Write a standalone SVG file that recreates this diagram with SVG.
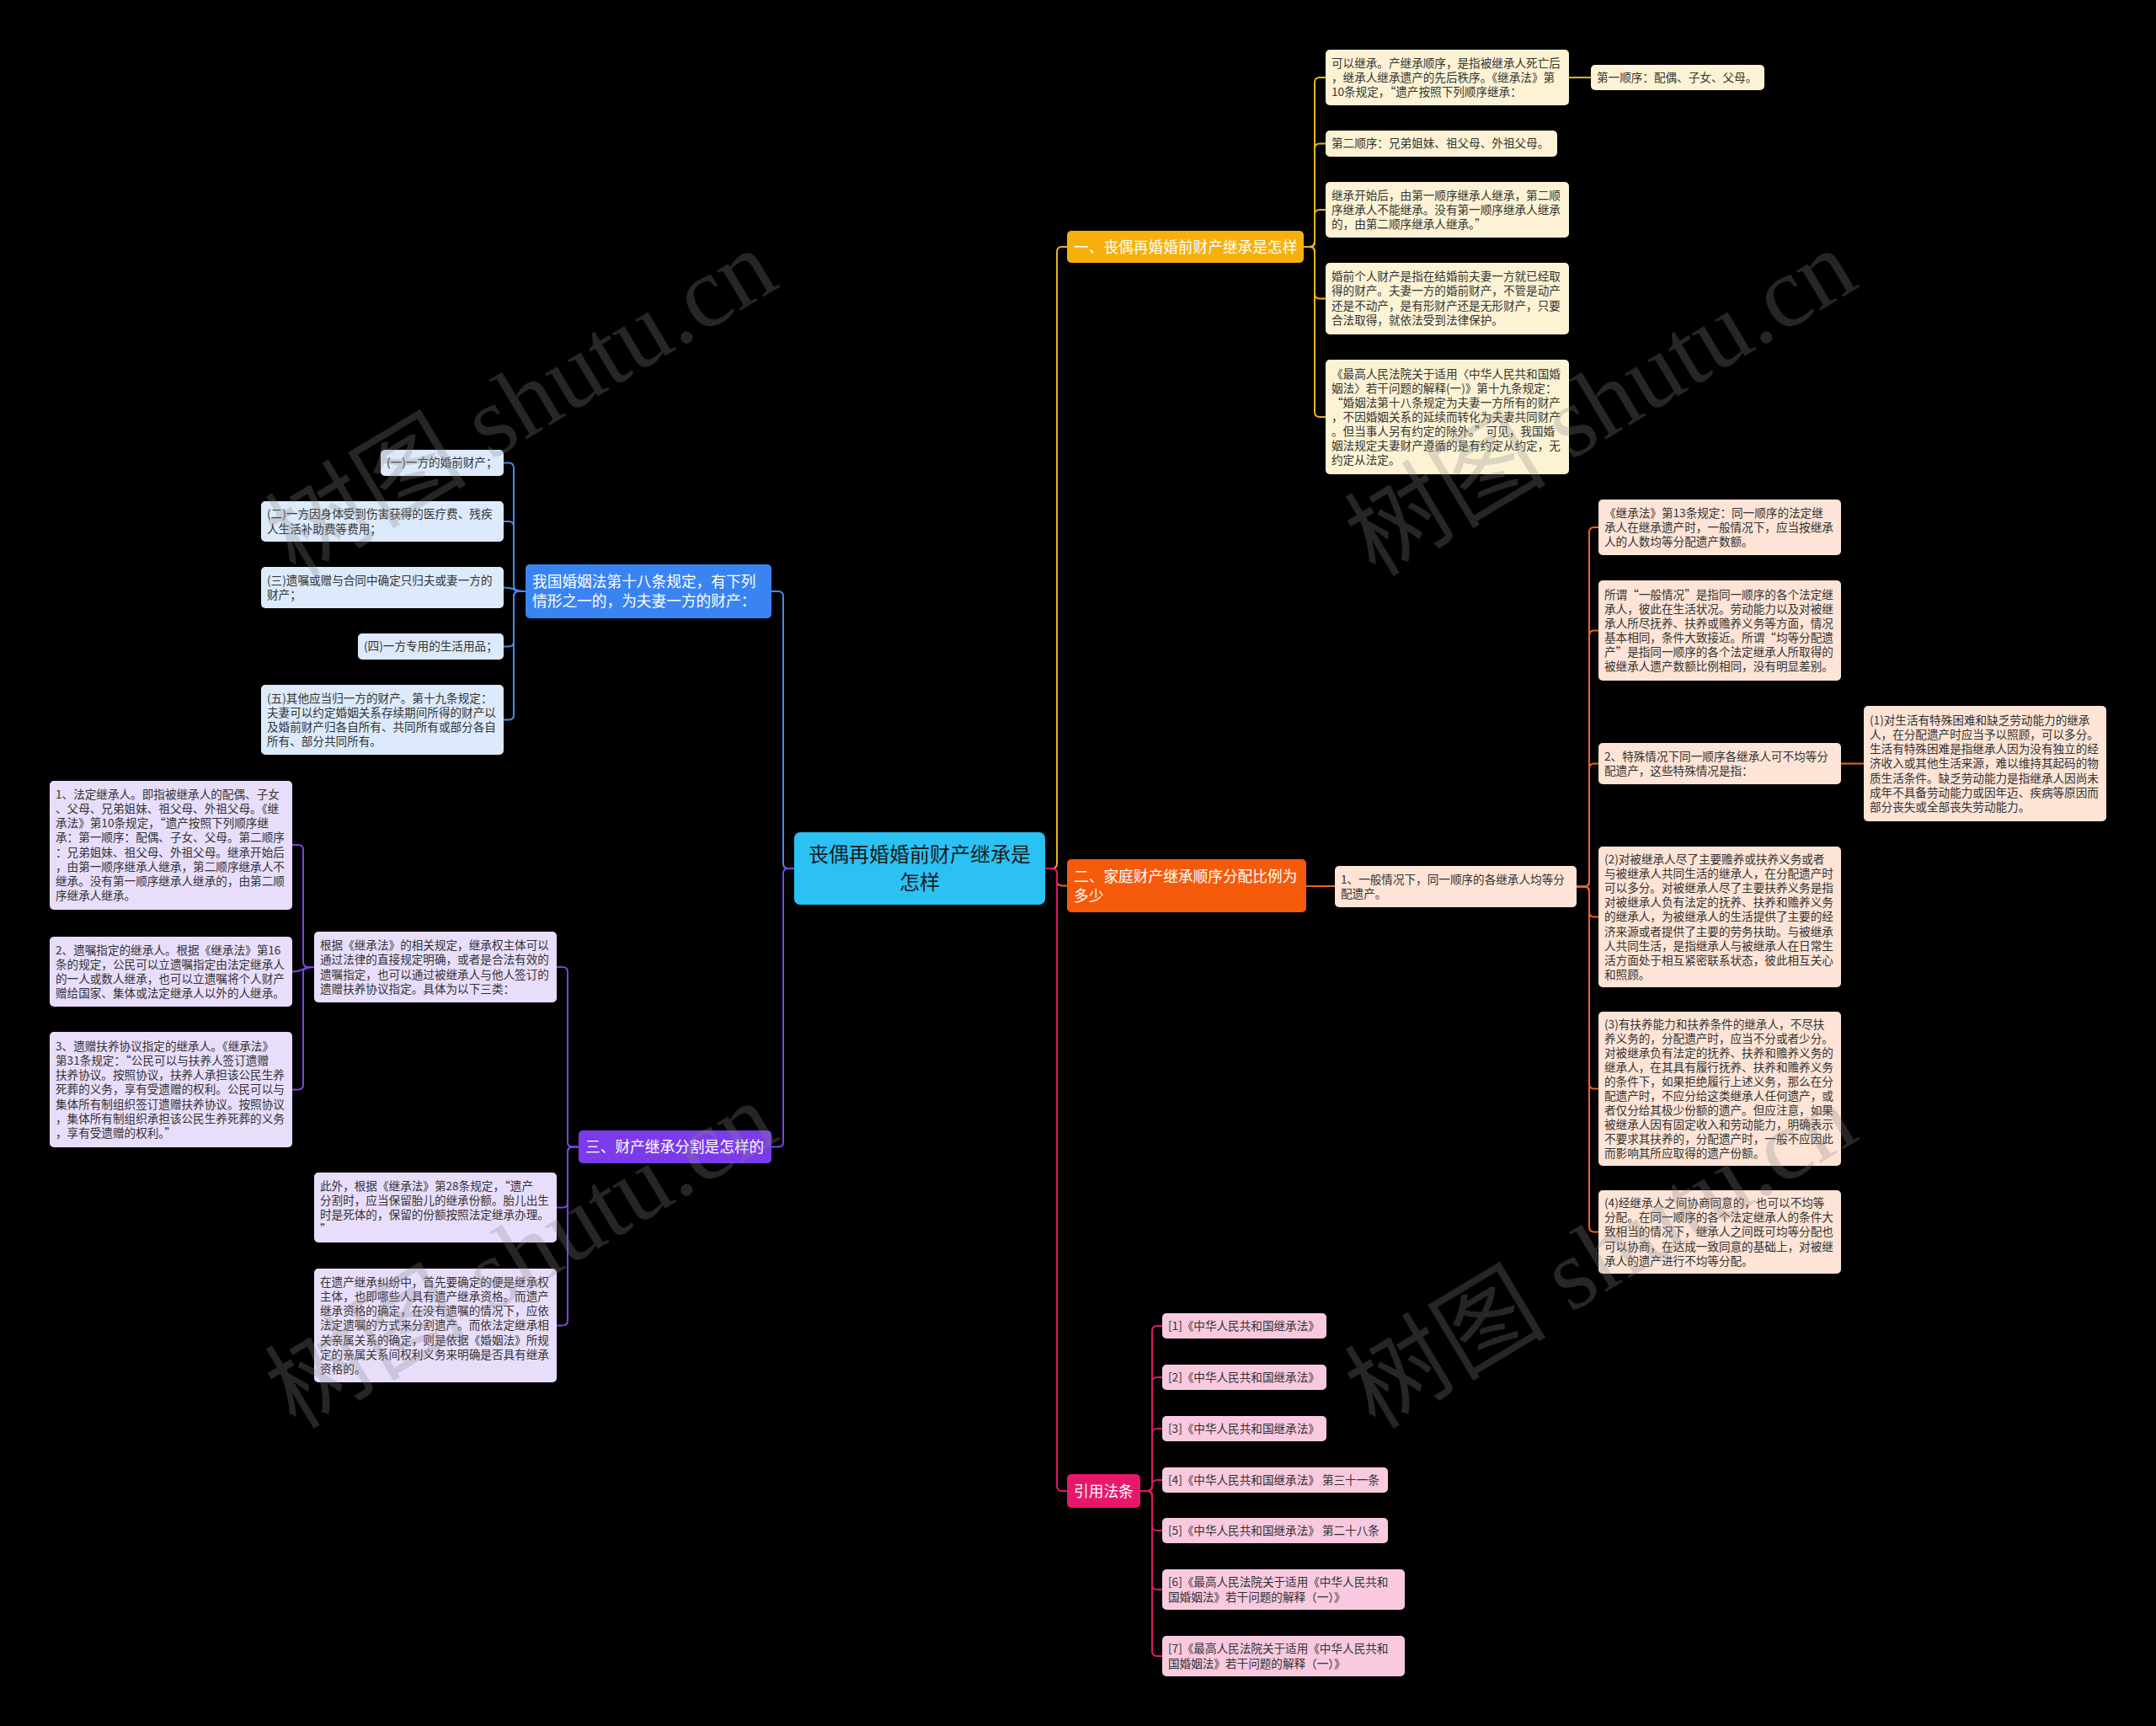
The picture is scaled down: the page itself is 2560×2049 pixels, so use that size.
<svg xmlns="http://www.w3.org/2000/svg" width="2560" height="2049" viewBox="0 0 2560 2049">
<style>
text{font-family:"Noto Sans CJK SC","Noto Sans",sans-serif;}
.lf{font-size:13.6px;fill:#333;}
.br{font-size:17.7px;fill:#fff;}
.ctr{font-size:24px;fill:#1c1c1c;}
.c{fill:none;stroke-width:2;}
.cy{stroke:#E8B221;}
.co{stroke:#EE6420;}
.cp{stroke:#D81A66;}
.cb{stroke:#4A88E6;}
.cv{stroke:#7A45DC;}
.ly{fill:#FDF3D4;}
.lo{fill:#FDE4D6;}
.lb{fill:#DCEAFC;}
.lv{fill:#E8DEFB;}
.lp{fill:#F8C9DF;}
.wm{font-family:"Liberation Serif","Noto Sans CJK SC",serif;font-size:120px;fill:#888;opacity:0.28;}
</style>
<rect width="2560" height="2049" fill="#000"/>
<g id="connectors">
<path class="c cy" d="M1241 1031 H1249 Q1255 1031 1255 1025 V299 Q1255 293 1261 293 H1267"/>
<path class="c co" d="M1241 1031 H1249 Q1255 1031 1255 1037 V1045.5 Q1255 1051.5 1261 1051.5 H1267"/>
<path class="c cp" d="M1241 1031 H1249 Q1255 1031 1255 1037 V1764 Q1255 1770 1261 1770 H1267"/>
<path class="c cb" d="M943 1031 H936 Q930 1031 930 1025 V708 Q930 702 924 702 H916"/>
<path class="c cv" d="M943 1031 H936 Q930 1031 930 1037 V1355.5 Q930 1361.5 924 1361.5 H916"/>
<path class="c cy" d="M1548 293 H1555 Q1561 293 1561 287 V98 Q1561 92 1567 92 H1574"/>
<path class="c cy" d="M1548 293 H1555 Q1561 293 1561 287 V176.5 Q1561 170.5 1567 170.5 H1574"/>
<path class="c cy" d="M1548 293 H1555 Q1561 293 1561 287 V255 Q1561 249 1567 249 H1574"/>
<path class="c cy" d="M1548 293 H1555 Q1561 293 1561 299 V348.5 Q1561 354.5 1567 354.5 H1574"/>
<path class="c cy" d="M1548 293 H1555 Q1561 293 1561 299 V489 Q1561 495 1567 495 H1574"/>
<path class="c cy" d="M1863 92 H1889"/>
<path class="c co" d="M1551 1052 H1585"/>
<path class="c co" d="M1872 1052.5 H1881 Q1887 1052.5 1887 1046.5 V632 Q1887 626 1893 626 H1898"/>
<path class="c co" d="M1872 1052.5 H1881 Q1887 1052.5 1887 1046.5 V754.5 Q1887 748.5 1893 748.5 H1898"/>
<path class="c co" d="M1872 1052.5 H1881 Q1887 1052.5 1887 1046.5 V912.5 Q1887 906.5 1893 906.5 H1898"/>
<path class="c co" d="M1872 1052.5 H1881 Q1887 1052.5 1887 1058.5 V1082.5 Q1887 1088.5 1893 1088.5 H1898"/>
<path class="c co" d="M1872 1052.5 H1881 Q1887 1052.5 1887 1058.5 V1286.5 Q1887 1292.5 1893 1292.5 H1898"/>
<path class="c co" d="M1872 1052.5 H1881 Q1887 1052.5 1887 1058.5 V1456.5 Q1887 1462.5 1893 1462.5 H1898"/>
<path class="c co" d="M2186 906.5 H2213"/>
<path class="c cp" d="M1354 1770 H1362 Q1368 1770 1368 1764 V1580 Q1368 1574 1374 1574 H1380"/>
<path class="c cp" d="M1354 1770 H1362 Q1368 1770 1368 1764 V1641 Q1368 1635 1374 1635 H1380"/>
<path class="c cp" d="M1354 1770 H1362 Q1368 1770 1368 1764 V1702 Q1368 1696 1374 1696 H1380"/>
<path class="c cp" d="M1354 1770 H1362 Q1368 1770 1368 1764 V1763 Q1368 1757 1374 1757 H1380"/>
<path class="c cp" d="M1354 1770 H1362 Q1368 1770 1368 1776 V1811 Q1368 1817 1374 1817 H1380"/>
<path class="c cp" d="M1354 1770 H1362 Q1368 1770 1368 1776 V1881 Q1368 1887 1374 1887 H1380"/>
<path class="c cp" d="M1354 1770 H1362 Q1368 1770 1368 1776 V1960 Q1368 1966 1374 1966 H1380"/>
<path class="c cb" d="M624 702 H616 Q610 702 610 696 V555.5 Q610 549.5 604 549.5 H598"/>
<path class="c cb" d="M624 702 H616 Q610 702 610 696 V625 Q610 619 604 619 H598"/>
<path class="c cb" d="M624 702 C610 702 612 697.5 598 697.5"/>
<path class="c cb" d="M624 702 H616 Q610 702 610 708 V761.5 Q610 767.5 604 767.5 H598"/>
<path class="c cb" d="M624 702 H616 Q610 702 610 708 V848.5 Q610 854.5 604 854.5 H598"/>
<path class="c cv" d="M687 1361.5 H680 Q674 1361.5 674 1355.5 V1154 Q674 1148 668 1148 H661"/>
<path class="c cv" d="M687 1361.5 H680 Q674 1361.5 674 1367.5 V1427.5 Q674 1433.5 668 1433.5 H661"/>
<path class="c cv" d="M687 1361.5 H680 Q674 1361.5 674 1367.5 V1567.5 Q674 1573.5 668 1573.5 H661"/>
<path class="c cv" d="M373 1148 H366 Q360 1148 360 1142 V1009 Q360 1003 354 1003 H347"/>
<path class="c cv" d="M373 1148 C360 1148 360 1153.5 347 1153.5"/>
<path class="c cv" d="M373 1148 H366 Q360 1148 360 1154 V1287.5 Q360 1293.5 354 1293.5 H347"/>
</g>

<g id="center">
<rect x="943" y="988" width="298" height="86" rx="7" fill="#2BC1F3"/>
<text class="ctr" text-anchor="middle"><tspan x="1092" y="1023">丧偶再婚婚前财产继承是</tspan><tspan x="1092" y="1056">怎样</tspan></text>
</g>

<g id="branch-1">
<rect x="1267" y="274" width="281" height="38" rx="5" fill="#F5B00C"/>
<text class="br" x="1275" y="299.5">一、丧偶再婚婚前财产继承是怎样</text>
</g>
<g id="y1">
<rect class="ly" x="1574" y="59" width="289" height="66" rx="5"/>
<text class="lf"><tspan x="1581" y="79.8">可以继承。产继承顺序，是指被继承人死亡后</tspan><tspan x="1581" y="96.9">，继承人继承遗产的先后秩序。《继承法》第</tspan><tspan x="1581" y="114">10条规定，“遗产按照下列顺序继承：</tspan></text>
</g>
<g id="y1a">
<rect class="ly" x="1889" y="77" width="206" height="30" rx="5"/>
<text class="lf" x="1896" y="96.9">第一顺序：配偶、子女、父母。</text>
</g>
<g id="y2">
<rect class="ly" x="1574" y="155" width="275" height="31" rx="5"/>
<text class="lf" x="1581" y="175.4">第二顺序：兄弟姐妹、祖父母、外祖父母。</text>
</g>
<g id="y3">
<rect class="ly" x="1574" y="216" width="289" height="66" rx="5"/>
<text class="lf"><tspan x="1581" y="236.8">继承开始后，由第一顺序继承人继承，第二顺</tspan><tspan x="1581" y="253.9">序继承人不能继承。没有第一顺序继承人继承</tspan><tspan x="1581" y="271">的，由第二顺序继承人继承。”</tspan></text>
</g>
<g id="y4">
<rect class="ly" x="1574" y="312" width="289" height="85" rx="5"/>
<text class="lf"><tspan x="1581" y="333.3">婚前个人财产是指在结婚前夫妻一方就已经取</tspan><tspan x="1581" y="350.4">得的财产。夫妻一方的婚前财产，不管是动产</tspan><tspan x="1581" y="367.5">还是不动产，是有形财产还是无形财产，只要</tspan><tspan x="1581" y="384.6">合法取得，就依法受到法律保护。</tspan></text>
</g>
<g id="y5">
<rect class="ly" x="1574" y="427" width="289" height="136" rx="5"/>
<text class="lf"><tspan x="1581" y="448.6">《最高人民法院关于适用〈中华人民共和国婚</tspan><tspan x="1581" y="465.7">姻法〉若干问题的解释(一)》第十九条规定：</tspan><tspan x="1581" y="482.8">“婚姻法第十八条规定为夫妻一方所有的财产</tspan><tspan x="1581" y="499.9">，不因婚姻关系的延续而转化为夫妻共同财产</tspan><tspan x="1581" y="517">。但当事人另有约定的除外。”可见，我国婚</tspan><tspan x="1581" y="534.1">姻法规定夫妻财产遵循的是有约定从约定，无</tspan><tspan x="1581" y="551.2">约定从法定。</tspan></text>
</g>

<g id="branch-2">
<rect x="1267" y="1020" width="284" height="63" rx="5" fill="#F55A0B"/>
<text class="br"><tspan x="1275" y="1046.5">二、家庭财产继承顺序分配比例为</tspan><tspan x="1275" y="1069.5">多少</tspan></text>
</g>
<g id="o0">
<rect class="lo" x="1585" y="1028" width="287" height="49" rx="5"/>
<text class="lf"><tspan x="1592" y="1048.9">1、一般情况下，同一顺序的各继承人均等分</tspan><tspan x="1592" y="1066">配遗产。</tspan></text>
</g>
<g id="o1">
<rect class="lo" x="1898" y="593" width="288" height="66" rx="5"/>
<text class="lf"><tspan x="1905" y="613.8">《继承法》第13条规定：同一顺序的法定继</tspan><tspan x="1905" y="630.9">承人在继承遗产时，一般情况下，应当按继承</tspan><tspan x="1905" y="648">人的人数均等分配遗产数额。</tspan></text>
</g>
<g id="o2">
<rect class="lo" x="1898" y="689" width="288" height="119" rx="5"/>
<text class="lf"><tspan x="1905" y="710.7">所谓“一般情况”是指同一顺序的各个法定继</tspan><tspan x="1905" y="727.8">承人，彼此在生活状况。劳动能力以及对被继</tspan><tspan x="1905" y="744.9">承人所尽抚养、扶养或赡养义务等方面，情况</tspan><tspan x="1905" y="762">基本相同，条件大致接近。所谓“均等分配遗</tspan><tspan x="1905" y="779.1">产”是指同一顺序的各个法定继承人所取得的</tspan><tspan x="1905" y="796.2">被继承人遗产数额比例相同，没有明显差别。</tspan></text>
</g>
<g id="o3">
<rect class="lo" x="1898" y="882" width="288" height="49" rx="5"/>
<text class="lf"><tspan x="1905" y="902.9">2、特殊情况下同一顺序各继承人可不均等分</tspan><tspan x="1905" y="920">配遗产，这些特殊情况是指：</tspan></text>
</g>
<g id="o3a">
<rect class="lo" x="2213" y="838" width="288" height="137" rx="5"/>
<text class="lf"><tspan x="2220" y="860.1">(1)对生活有特殊困难和缺乏劳动能力的继承</tspan><tspan x="2220" y="877.2">人，在分配遗产时应当予以照顾，可以多分。</tspan><tspan x="2220" y="894.3">生活有特殊困难是指继承人因为没有独立的经</tspan><tspan x="2220" y="911.4">济收入或其他生活来源，难以维持其起码的物</tspan><tspan x="2220" y="928.5">质生活条件。缺乏劳动能力是指继承人因尚未</tspan><tspan x="2220" y="945.6">成年不具备劳动能力或因年迈、疾病等原因而</tspan><tspan x="2220" y="962.7">部分丧失或全部丧失劳动能力。</tspan></text>
</g>
<g id="o4">
<rect class="lo" x="1898" y="1005" width="288" height="167" rx="5"/>
<text class="lf"><tspan x="1905" y="1025">(2)对被继承人尽了主要赡养或扶养义务或者</tspan><tspan x="1905" y="1042.1">与被继承人共同生活的继承人，在分配遗产时</tspan><tspan x="1905" y="1059.2">可以多分。对被继承人尽了主要扶养义务是指</tspan><tspan x="1905" y="1076.3">对被继承人负有法定的抚养、扶养和赡养义务</tspan><tspan x="1905" y="1093.4">的继承人，为被继承人的生活提供了主要的经</tspan><tspan x="1905" y="1110.5">济来源或者提供了主要的劳务扶助。与被继承</tspan><tspan x="1905" y="1127.6">人共同生活，是指继承人与被继承人在日常生</tspan><tspan x="1905" y="1144.7">活方面处于相互紧密联系状态，彼此相互关心</tspan><tspan x="1905" y="1161.8">和照顾。</tspan></text>
</g>
<g id="o5">
<rect class="lo" x="1898" y="1201" width="288" height="183" rx="5"/>
<text class="lf"><tspan x="1905" y="1220.5">(3)有扶养能力和扶养条件的继承人，不尽扶</tspan><tspan x="1905" y="1237.6">养义务的，分配遗产时，应当不分或者少分。</tspan><tspan x="1905" y="1254.7">对被继承负有法定的抚养、扶养和赡养义务的</tspan><tspan x="1905" y="1271.8">继承人，在其具有履行抚养、扶养和赡养义务</tspan><tspan x="1905" y="1288.9">的条件下，如果拒绝履行上述义务，那么在分</tspan><tspan x="1905" y="1306">配遗产时，不应分给这类继承人任何遗产，或</tspan><tspan x="1905" y="1323.1">者仅分给其极少份额的遗产。但应注意，如果</tspan><tspan x="1905" y="1340.2">被继承人因有固定收入和劳动能力，明确表示</tspan><tspan x="1905" y="1357.3">不要求其扶养的，分配遗产时，一般不应因此</tspan><tspan x="1905" y="1374.4">而影响其所应取得的遗产份额。</tspan></text>
</g>
<g id="o6">
<rect class="lo" x="1898" y="1413" width="288" height="99" rx="5"/>
<text class="lf"><tspan x="1905" y="1433.2">(4)经继承人之间协商同意的，也可以不均等</tspan><tspan x="1905" y="1450.3">分配。在同一顺序的各个法定继承人的条件大</tspan><tspan x="1905" y="1467.4">致相当的情况下，继承人之间既可均等分配也</tspan><tspan x="1905" y="1484.5">可以协商，在达成一致同意的基础上，对被继</tspan><tspan x="1905" y="1501.6">承人的遗产进行不均等分配。</tspan></text>
</g>

<g id="branch-refs">
<rect x="1267" y="1750" width="87" height="40" rx="5" fill="#E8176B"/>
<text class="br" x="1275" y="1776.5">引用法条</text>
</g>
<g id="p1"><rect class="lp" x="1380" y="1559" width="195" height="30" rx="5"/><text class="lf" x="1387" y="1578.9">[1]《中华人民共和国继承法》</text></g>
<g id="p2"><rect class="lp" x="1380" y="1620" width="195" height="30" rx="5"/><text class="lf" x="1387" y="1639.9">[2]《中华人民共和国继承法》</text></g>
<g id="p3"><rect class="lp" x="1380" y="1681" width="195" height="30" rx="5"/><text class="lf" x="1387" y="1700.9">[3]《中华人民共和国继承法》</text></g>
<g id="p4"><rect class="lp" x="1380" y="1742" width="268" height="30" rx="5"/><text class="lf" x="1387" y="1761.9">[4]《中华人民共和国继承法》 第三十一条</text></g>
<g id="p5"><rect class="lp" x="1380" y="1802" width="268" height="30" rx="5"/><text class="lf" x="1387" y="1821.9">[5]《中华人民共和国继承法》 第二十八条</text></g>
<g id="p6"><rect class="lp" x="1380" y="1863" width="288" height="48" rx="5"/><text class="lf"><tspan x="1387" y="1883.4">[6]《最高人民法院关于适用《中华人民共和</tspan><tspan x="1387" y="1900.5">国婚姻法》若干问题的解释（一）》</tspan></text></g>
<g id="p7"><rect class="lp" x="1380" y="1942" width="288" height="48" rx="5"/><text class="lf"><tspan x="1387" y="1962.4">[7]《最高人民法院关于适用《中华人民共和</tspan><tspan x="1387" y="1979.5">国婚姻法》若干问题的解释（一）》</tspan></text></g>

<g id="branch-blue">
<rect x="624" y="670" width="292" height="64" rx="5" fill="#3A84F2"/>
<text class="br"><tspan x="632" y="697">我国婚姻法第十八条规定，有下列</tspan><tspan x="632" y="720">情形之一的，为夫妻一方的财产：</tspan></text>
</g>
<g id="b1"><rect class="lb" x="452" y="534" width="146" height="31" rx="5"/><text class="lf" x="459" y="554.4">(一)一方的婚前财产；</text></g>
<g id="b2"><rect class="lb" x="310" y="595" width="288" height="48" rx="5"/><text class="lf"><tspan x="317" y="615.4">(二)一方因身体受到伤害获得的医疗费、残疾</tspan><tspan x="317" y="632.5">人生活补助费等费用；</tspan></text></g>
<g id="b3"><rect class="lb" x="310" y="673" width="288" height="49" rx="5"/><text class="lf"><tspan x="317" y="693.9">(三)遗嘱或赠与合同中确定只归夫或妻一方的</tspan><tspan x="317" y="711">财产；</tspan></text></g>
<g id="b4"><rect class="lb" x="425" y="752" width="173" height="31" rx="5"/><text class="lf" x="432" y="772.4">(四)一方专用的生活用品；</text></g>
<g id="b5"><rect class="lb" x="310" y="813" width="288" height="83" rx="5"/><text class="lf"><tspan x="317" y="833.8">(五)其他应当归一方的财产。第十九条规定：</tspan><tspan x="317" y="850.9">夫妻可以约定婚姻关系存续期间所得的财产以</tspan><tspan x="317" y="868">及婚前财产归各自所有、共同所有或部分各自</tspan><tspan x="317" y="885.1">所有、部分共同所有。</tspan></text></g>

<g id="branch-3">
<rect x="687" y="1342" width="229" height="39" rx="5" fill="#7B3BEA"/>
<text class="br" x="695" y="1368">三、财产继承分割是怎样的</text>
</g>
<g id="v1"><rect class="lv" x="373" y="1106" width="288" height="84" rx="5"/><text class="lf"><tspan x="380" y="1127.3">根据《继承法》的相关规定，继承权主体可以</tspan><tspan x="380" y="1144.4">通过法律的直接规定明确，或者是合法有效的</tspan><tspan x="380" y="1161.5">遗嘱指定，也可以通过被继承人与他人签订的</tspan><tspan x="380" y="1178.6">遗赠扶养协议指定。具体为以下三类：</tspan></text></g>
<g id="v2"><rect class="lv" x="373" y="1392" width="288" height="83" rx="5"/><text class="lf"><tspan x="380" y="1412.8">此外，根据《继承法》第28条规定，“遗产</tspan><tspan x="380" y="1429.9">分割时，应当保留胎儿的继承份额。胎儿出生</tspan><tspan x="380" y="1447">时是死体的，保留的份额按照法定继承办理。</tspan><tspan x="380" y="1464.1">”</tspan></text></g>
<g id="v3"><rect class="lv" x="373" y="1506" width="288" height="135" rx="5"/><text class="lf"><tspan x="380" y="1527.1">在遗产继承纠纷中，首先要确定的便是继承权</tspan><tspan x="380" y="1544.2">主体，也即哪些人具有遗产继承资格。而遗产</tspan><tspan x="380" y="1561.3">继承资格的确定，在没有遗嘱的情况下，应依</tspan><tspan x="380" y="1578.4">法定遗嘱的方式来分割遗产。而依法定继承相</tspan><tspan x="380" y="1595.5">关亲属关系的确定，则是依据《婚姻法》所规</tspan><tspan x="380" y="1612.6">定的亲属关系间权利义务来明确是否具有继承</tspan><tspan x="380" y="1629.7">资格的。</tspan></text></g>
<g id="v1a"><rect class="lv" x="59" y="927" width="288" height="153" rx="5"/><text class="lf"><tspan x="66" y="948.1">1、法定继承人。即指被继承人的配偶、子女</tspan><tspan x="66" y="965.2">、父母、兄弟姐妹、祖父母、外祖父母。《继</tspan><tspan x="66" y="982.3">承法》第10条规定，“遗产按照下列顺序继</tspan><tspan x="66" y="999.4">承：第一顺序：配偶、子女、父母。第二顺序</tspan><tspan x="66" y="1016.5">：兄弟姐妹、祖父母、外祖父母。继承开始后</tspan><tspan x="66" y="1033.6">，由第一顺序继承人继承，第二顺序继承人不</tspan><tspan x="66" y="1050.7">继承。没有第一顺序继承人继承的，由第二顺</tspan><tspan x="66" y="1067.8">序继承人继承。</tspan></text></g>
<g id="v1b"><rect class="lv" x="59" y="1112" width="288" height="83" rx="5"/><text class="lf"><tspan x="66" y="1132.8">2、遗嘱指定的继承人。根据《继承法》第16</tspan><tspan x="66" y="1149.9">条的规定，公民可以立遗嘱指定由法定继承人</tspan><tspan x="66" y="1167">的一人或数人继承，也可以立遗嘱将个人财产</tspan><tspan x="66" y="1184.1">赠给国家、集体或法定继承人以外的人继承。</tspan></text></g>
<g id="v1c"><rect class="lv" x="59" y="1225" width="288" height="137" rx="5"/><text class="lf"><tspan x="66" y="1247.1">3、遗赠扶养协议指定的继承人。《继承法》</tspan><tspan x="66" y="1264.2">第31条规定：“公民可以与扶养人签订遗赠</tspan><tspan x="66" y="1281.3">扶养协议。按照协议，扶养人承担该公民生养</tspan><tspan x="66" y="1298.4">死葬的义务，享有受遗赠的权利。公民可以与</tspan><tspan x="66" y="1315.5">集体所有制组织签订遗赠扶养协议。按照协议</tspan><tspan x="66" y="1332.6">，集体所有制组织承担该公民生养死葬的义务</tspan><tspan x="66" y="1349.7">，享有受遗赠的权利。”</tspan></text></g>

<g id="watermarks">
<text class="wm" transform="translate(351,686) rotate(-31)">树图 shutu.cn</text>
<text class="wm" transform="translate(1633,686) rotate(-31)">树图 shutu.cn</text>
<text class="wm" transform="translate(351,1698) rotate(-31)">树图 shutu.cn</text>
<text class="wm" transform="translate(1633,1698) rotate(-31)">树图 shutu.cn</text>
</g>
</svg>
